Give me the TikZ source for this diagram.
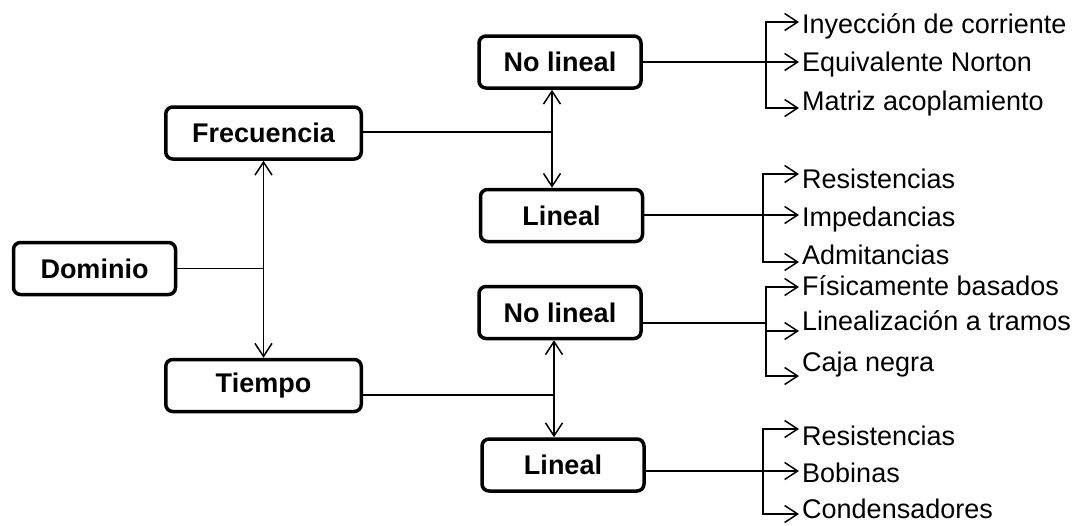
\documentclass[tikz,border=0pt]{standalone}
\usepackage{fontspec}
\setmainfont{Liberation Sans}
\usetikzlibrary{arrows.meta, positioning}
\tikzstyle{box} = [rectangle, rounded corners=7pt,
minimum width=162pt,
minimum height=52pt,
align=center,
draw=black, line width=3.5pt,
font=\fontsize{27}{30}\selectfont\bfseries]
\tikzstyle{leaf} = [anchor=west, inner xsep=3pt, inner ysep=0pt,
text height=19pt, text depth=0pt,
font=\fontsize{27}{30}\selectfont]
\tikzstyle{conn} = [line width=1.5pt]
\tikzstyle{arrow} = [-{Straight Barb[length=13pt,width=17pt]}, line width=1.5pt]

\begin{document}
\begin{tikzpicture}[x=1pt, y=-1pt]

		\useasboundingbox (0,0) rectangle (1083,525);

		% Boxes
		\node[box] (dom) at (94.5,268.5) {Dominio};
		\node[box, minimum width=195.5pt] (frec) at (263.5,133) {Frecuencia};
		\node[box, minimum width=195.5pt] (tiem) at (263.5,385.5) {Tiempo};
		\node[box] (nl1) at (560,62) {No lineal};
		\node[box] (l1) at (561.5,215.5) {Lineal};
		\node[box] (nl2) at (560,312.5) {No lineal};
		\node[box] (l2) at (563,465) {Lineal};

		% Junctions
		\coordinate (j1) at (frec.south |- dom.east);
		\coordinate (j2) at (552,132);
		\coordinate (j3) at (554,395);

		\draw[conn] (dom) -- (j1);
		\draw[arrow] (j1) -- (frec);
		\draw[arrow] (j1) -- (tiem);

		\draw[conn] (frec.east |- j2) -- (j2);
		\draw[arrow] (j2) -- (j2 |- nl1.south);
		\draw[arrow] (j2) -- (j2 |- l1.north);

		\draw[conn] (tiem.east |- j3) -- (j3);
		\draw[arrow] (j3) -- (j3 |- nl2.south);
		\draw[arrow] (j3) -- (j3 |- l2.north);

		% Frecuencia - No lineal
		\node[leaf] (t11) at (799,24) {Inyección de corriente};
		\node[leaf] (t12) at (799,62) {Equivalente Norton};
		\node[leaf] (t13) at (799,101) {Matriz acoplamiento};
		\coordinate (g1) at (766,62);
		\coordinate (g1t) at (766,22);
		\coordinate (g1b) at (766,108);
		\draw[conn] (nl1.east |- g1) -- (g1);
		\draw[arrow] (g1b) -- (g1t) -- (t11.west |- g1t);
		\draw[arrow] (g1) -- (t12.west |- g1);
		\draw[arrow] (g1t) -- (g1b) -- (t13.west |- g1b);

		% Frecuencia - Lineal
		\node[leaf] (t21) at (799,179) {Resistencias};
		\node[leaf] (t22) at (799,217) {Impedancias};
		\node[leaf] (t23) at (799,255) {Admitancias};
		\coordinate (g2) at (763,215);
		\coordinate (g2t) at (763,174);
		\coordinate (g2b) at (763,262);
		\draw[conn] (l1.east |- g2) -- (g2);
		\draw[arrow] (g2b) -- (g2t) -- (t21.west |- g2t);
		\draw[arrow] (g2) -- (t22.west |- g2);
		\draw[arrow] (g2t) -- (g2b) -- (t23.west |- g2b);

		% Tiempo - No lineal
		\node[leaf] (t31) at (799,286) {Físicamente basados};
		\node[leaf] (t32) at (799,321) {Linealización a tramos};
		\node[leaf] (t33) at (799,362) {Caja negra};
		\coordinate (g3) at (766,323);
		\coordinate (g3m) at (766,331);
		\coordinate (g3t) at (766,287);
		\coordinate (g3b) at (766,376);
		\draw[conn] (nl2.east |- g3) -- (g3);
		\draw[arrow] (g3b) -- (g3t) -- (t31.west |- g3t);
		\draw[arrow] (g3m) -- (t32.west |- g3m);
		\draw[arrow] (g3t) -- (g3b) -- (t33.west |- g3b);

		% Tiempo - Lineal
		\node[leaf] (t41) at (799,436) {Resistencias};
		\node[leaf] (t42) at (799,473) {Bobinas};
		\node[leaf] (t43) at (799,509) {Condensadores};
		\coordinate (g4) at (763,471);
		\coordinate (g4t) at (763,429);
		\coordinate (g4b) at (763,514);
		\draw[conn] (l2.east |- g4) -- (g4);
		\draw[arrow] (g4b) -- (g4t) -- (t41.west |- g4t);
		\draw[arrow] (g4) -- (t42.west |- g4);
		\draw[arrow] (g4t) -- (g4b) -- (t43.west |- g4b);

	\end{tikzpicture}
\end{document}
